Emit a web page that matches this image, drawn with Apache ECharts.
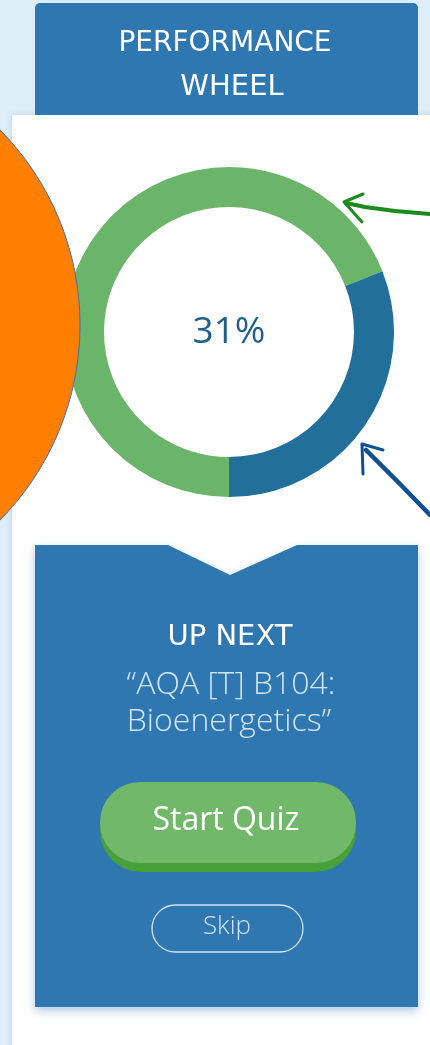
<!DOCTYPE html>
<html>
<head>
<meta charset="utf-8">
<script src="https://cdn.jsdelivr.net/npm/echarts@6/dist/echarts.min.js"></script>
<style>
html,body{margin:0;padding:0;background:#deeef9;}
#chart{width:430px;height:1045px;}
</style>
</head>
<body>
<div id="chart"></div>
<script>
// ---- data ----
const segmentNames = ['Remaining', 'Completed'];
const segmentValues = [69, 31];
const titleLines = ['PERFORMANCE', 'WHEEL'];
const upNextLabel = 'UP NEXT';
const quizTitleLines = ['\u201CAQA [T] B104:', 'Bioenergetics\u201D'];
const primaryButtonLabel = 'Start Quiz';
const secondaryButtonLabel = 'Skip';

// ---- styles ----
const segmentColors = ['#6bb56a', '#226f99'];
const boxBlue = '#2f77b0';
const paleText = '#d3e4f2';

const chart = echarts.init(document.getElementById('chart'), null, {renderer: 'canvas'});

const handFont = "'DejaVu Sans', sans-serif";
const bodyFont = "'Open Sans', 'Noto Sans', sans-serif";

const graphics = [
  // page background
  {type: 'rect', z: 0, shape: {x: 0, y: 0, width: 430, height: 1045}, style: {fill: '#deeef9'}},
  // white panel
  {type: 'rect', z: 0, shape: {x: 12, y: 115, width: 430, height: 940},
   style: {fill: '#ffffff', shadowBlur: 6, shadowColor: 'rgba(120,160,200,0.35)'}},
  // header box
  {type: 'rect', z: 1, shape: {x: 35, y: 3, width: 383, height: 112, r: [5, 5, 0, 0]}, style: {fill: boxBlue}},
  {type: 'text', z: 2, style: {text: titleLines[0], x: 225, y: 44, fill: '#ffffff',
    font: 'normal 28px ' + handFont, textAlign: 'center', textVerticalAlign: 'middle'}},
  {type: 'text', z: 2, style: {text: titleLines[1], x: 232, y: 87, fill: '#ffffff',
    font: 'normal 29px ' + handFont, textAlign: 'center', textVerticalAlign: 'middle'}},
  // orange circle overlapping wheel
  {type: 'circle', z: 10, shape: {cx: -198, cy: 325, r: 278},
   style: {fill: '#ff8000', stroke: '#3b6fbf', lineWidth: 1}},
  // green arrow
  {type: 'polyline', z: 10, shape: {points: [[430, 214], [395, 211], [365, 207], [346, 203]]},
   style: {stroke: '#1c8a1c', lineWidth: 4, lineCap: 'round', lineJoin: 'round'}},
  {type: 'polyline', z: 10, shape: {points: [[363, 194], [344, 202], [362, 222]]},
   style: {stroke: '#1c8a1c', lineWidth: 3, lineCap: 'round', lineJoin: 'round', fill: null}},
  // blue arrow
  {type: 'polyline', z: 10, shape: {points: [[430, 515], [400, 484], [366, 450]]},
   style: {stroke: '#0f5093', lineWidth: 4.5, lineCap: 'round', lineJoin: 'round'}},
  {type: 'polyline', z: 10, shape: {points: [[383, 450], [362, 444], [363, 474]]},
   style: {stroke: '#0f5093', lineWidth: 3, lineCap: 'round', lineJoin: 'round', fill: null}},
  // bottom box with notch
  {type: 'polygon', z: 1, shape: {points: [[35, 545], [168, 545], [230, 575], [297, 545], [418, 545], [418, 1007], [35, 1007]]},
   style: {fill: boxBlue, shadowBlur: 10, shadowOffsetY: 4, shadowColor: 'rgba(40,100,160,0.35)'}},
  {type: 'text', z: 2, style: {text: upNextLabel, x: 230, y: 637, fill: '#ffffff',
    font: 'normal 29px ' + handFont, textAlign: 'center', textVerticalAlign: 'middle'}},
  {type: 'text', z: 2, style: {text: quizTitleLines[0], x: 231, y: 685, fill: paleText,
    font: '300 32px ' + bodyFont, textAlign: 'center', textVerticalAlign: 'middle'}},
  {type: 'text', z: 2, style: {text: quizTitleLines[1], x: 229, y: 722, fill: paleText,
    font: '300 32px ' + bodyFont, textAlign: 'center', textVerticalAlign: 'middle'}},
  // start quiz button
  {type: 'rect', z: 2, shape: {x: 100, y: 790, width: 256, height: 82, r: 41}, style: {fill: '#48a03a'}},
  {type: 'rect', z: 3, shape: {x: 100, y: 782, width: 256, height: 81, r: 40}, style: {fill: '#72b86a'}},
  {type: 'text', z: 4, style: {text: primaryButtonLabel, x: 226, y: 821, fill: '#ffffff',
    font: 'normal 32px ' + bodyFont, textAlign: 'center', textVerticalAlign: 'middle'}},
  // skip button
  {type: 'rect', z: 2, shape: {x: 152, y: 905, width: 151, height: 47, r: 23.5},
   style: {fill: 'rgba(0,0,0,0)', stroke: paleText, lineWidth: 1.3}},
  {type: 'text', z: 3, style: {text: secondaryButtonLabel, x: 227, y: 927, fill: paleText,
    font: '300 26px ' + bodyFont, textAlign: 'center', textVerticalAlign: 'middle'}}
];

const option = {
  animation: false,
  graphic: {elements: graphics},
  series: [{
    type: 'pie',
    z: 5,
    silent: true,
    center: [229, 332],
    radius: [125, 165],
    startAngle: -90,
    clockwise: true,
    avoidLabelOverlap: false,
    labelLine: {show: false},
    itemStyle: {borderWidth: 0},
    data: segmentNames.map((n, i) => ({
      name: n,
      value: segmentValues[i],
      itemStyle: {color: segmentColors[i]},
      label: i === 1 ? {
        show: true, position: 'center', formatter: '{c}%',
        fontSize: 37, fontFamily: bodyFont, color: '#1f5f8b', fontWeight: 'normal'
      } : {show: false}
    }))
  }]
};
chart.setOption(option);
</script>
</body>
</html>
